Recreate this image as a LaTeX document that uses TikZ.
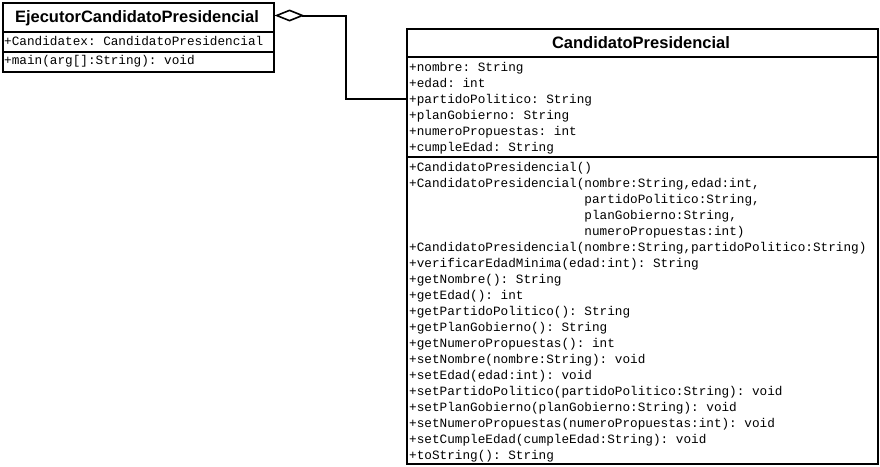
\documentclass[tikz,border=0pt]{standalone}
\usepackage{fontspec}
\setmonofont{Liberation Mono}
\newfontfamily\titlefont{Liberation Sans}
\usetikzlibrary{arrows.meta}
\tikzset{
  compart/.style={draw, line width=2pt, anchor=north west, inner sep=0pt},
  titletext/.style={font=\titlefont\bfseries\fontsize{16.5}{16.5}\selectfont, anchor=base, inner sep=0pt},
  membertext/.style={font=\ttfamily\fontsize{12.7}{16}\selectfont, align=left, anchor=base west, inner sep=0pt},
  conn/.style={draw, line width=2pt},
  aggr/.style={{Diamond[open, length=30pt, width=12pt, line width=1.6pt]}-}
}
\begin{document}
\begin{tikzpicture}[x=1pt,y=-1pt]
\useasboundingbox[fill=white] (0,0) rectangle (880,466);
% Ejecutor class
\node[compart, minimum width=271pt, minimum height=29pt] (ejT) at (1.5,1.5) {};
\node[compart, minimum width=271pt, minimum height=20pt] (ejA) at (1.5,30.5) {};
\node[compart, minimum width=271pt, minimum height=20pt] (ejM) at (1.5,50.5) {};
\node[titletext] (ejTt) at (137,22.7) {EjecutorCandidatoPresidencial};
\node[membertext] (ejAt) at (4,45) {+Candidatex: CandidatoPresidencial};
\node[membertext] (ejMt) at (4,64.5) {+main(arg[]:String): void};
% Candidato class
\node[compart, minimum width=471pt, minimum height=28pt] (caT) at (405.5,27.5) {};
\node[compart, minimum width=471pt, minimum height=100pt] (caA) at (405.5,55.5) {};
\node[compart, minimum width=471pt, minimum height=307pt] (caM) at (405.5,155.5) {};
\node[titletext] (caTt) at (641,48) {CandidatoPresidencial};
% base anchor of a multi-line node = baseline of its last line
\node[membertext] (caAt) at (409,151.5) {+nombre: String\\
+edad: int\\
+partidoPolitico: String\\
+planGobierno: String\\
+numeroPropuestas: int\\
+cumpleEdad: String};
\node[membertext] (caMt) at (409,459) {+CandidatoPresidencial()\\
+CandidatoPresidencial(nombre:String,edad:int,\\
\phantom{+CandidatoPresidencial(}partidoPolitico:String,\\
\phantom{+CandidatoPresidencial(}planGobierno:String,\\
\phantom{+CandidatoPresidencial(}numeroPropuestas:int)\\
+CandidatoPresidencial(nombre:String,partidoPolitico:String)\\
+verificarEdadMinima(edad:int): String\\
+getNombre(): String\\
+getEdad(): int\\
+getPartidoPolitico(): String\\
+getPlanGobierno(): String\\
+getNumeroPropuestas(): int\\
+setNombre(nombre:String): void\\
+setEdad(edad:int): void\\
+setPartidoPolitico(partidoPolitico:String): void\\
+setPlanGobierno(planGobierno:String): void\\
+setNumeroPropuestas(numeroPropuestas:int): void\\
+setCumpleEdad(cumpleEdad:String): void\\
+toString(): String};
% aggregation connector
\coordinate (b1) at (346,15.5);
\coordinate (b2) at (346,98.5);
\draw[conn, aggr] (ejT.east |- b1) -- (b1) -- (b2) -- (caA.west |- b2);
\end{tikzpicture}
\end{document}
